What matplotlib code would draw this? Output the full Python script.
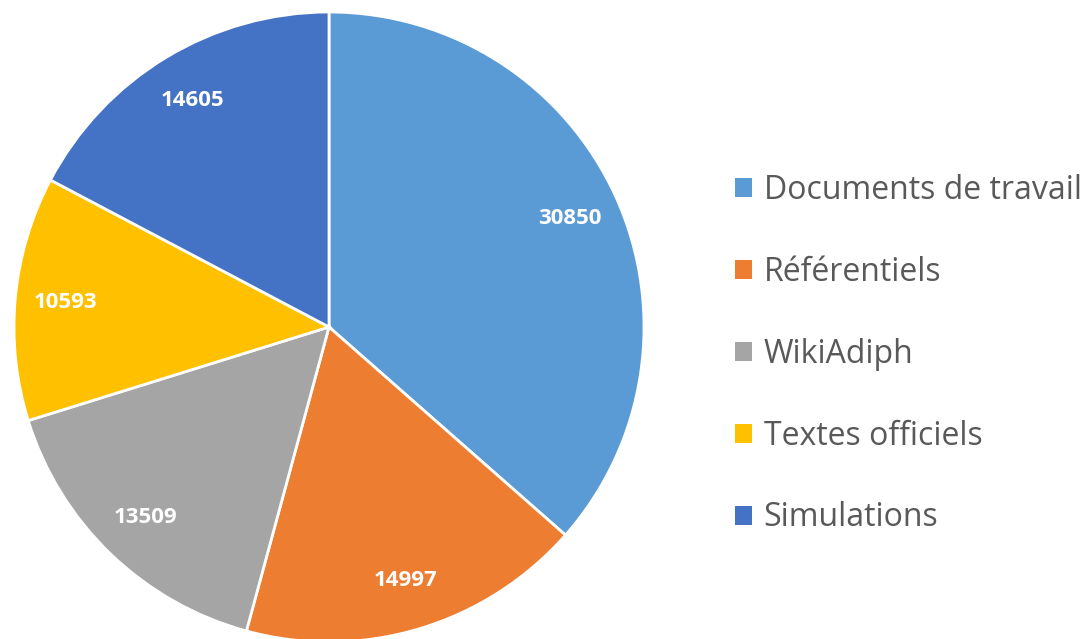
import matplotlib
matplotlib.use("Agg")
import matplotlib.pyplot as plt
from matplotlib.patches import Patch

categories = ["Documents de travail", "Référentiels", "WikiAdiph", "Textes officiels", "Simulations"]
values = [30850, 14997, 13509, 10593, 14605]
colors = ["#5B9BD5", "#ED7D31", "#A5A5A5", "#FFC000", "#4472C4"]

plt.rcParams['font.family'] = ['Open Sans', 'DejaVu Sans']

fig = plt.figure(figsize=(10.91, 6.39), dpi=100)
W, H = 1091, 639
cx, cy, r = 329, 327, 315
ax = fig.add_axes([(cx - r) / W, (H - cy - r) / H, 2 * r / W, 2 * r / H])

wedges, texts = ax.pie(values, colors=colors, startangle=90, counterclock=False,
                       labels=[str(v) for v in values], labeldistance=0.84,
                       wedgeprops=dict(edgecolor="white", linewidth=2),
                       textprops=dict(color="white", fontsize=16, fontweight="bold"))
for t in texts:
    t.set_horizontalalignment("center")
    t.set_verticalalignment("center")
ax.set_xlim(-1, 1)
ax.set_ylim(-1, 1)
ax.set_aspect("equal")
ax.axis("off")

handles = [Patch(facecolor=c, edgecolor="none") for c in colors]
leg = fig.legend(handles, categories, loc="upper left", bbox_to_anchor=(735 / W, 1 - 174 / H),
                 frameon=False, fontsize=23, labelcolor="#595959",
                 handlelength=0.53, handleheight=0.53, handletextpad=0.37,
                 labelspacing=1.53, borderaxespad=0, borderpad=0)

fig.savefig("out.png", dpi=100)
